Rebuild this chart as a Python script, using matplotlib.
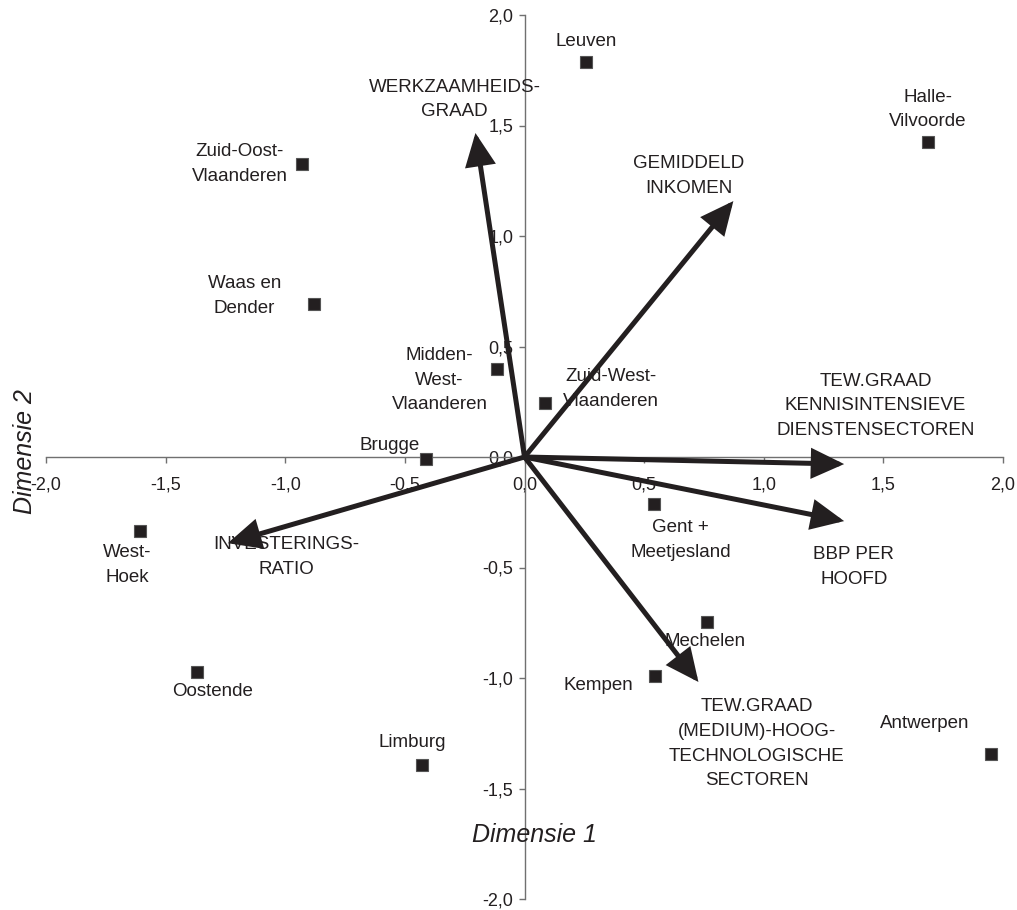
import matplotlib
matplotlib.use("Agg")
import matplotlib.pyplot as plt
from matplotlib.ticker import FuncFormatter

plt.rcParams['font.family'] = ['Liberation Sans', 'DejaVu Sans']

# ---- data ----
regions = ["Leuven", "Halle-\nVilvoorde", "Zuid-Oost-\nVlaanderen", "Waas en\nDender",
           "Midden-\nWest-\nVlaanderen", "Zuid-West-\nVlaanderen", "Brugge", "West-\nHoek",
           "Gent +\nMeetjesland", "Mechelen", "Kempen", "Oostende", "Limburg", "Antwerpen"]
region_x = [0.259, 1.687, -0.931, -0.881, -0.117, 0.084, -0.413, -1.607,
            0.543, 0.764, 0.547, -1.369, -0.430, 1.950]
region_y = [1.787, 1.425, 1.326, 0.692, 0.398, 0.244, -0.009, -0.335,
            -0.213, -0.747, -0.991, -0.973, -1.394, -1.344]

variables = ["WERKZAAMHEIDS-\nGRAAD", "GEMIDDELD\nINKOMEN",
             "TEW.GRAAD\nKENNISINTENSIEVE\nDIENSTENSECTOREN", "BBP PER\nHOOFD",
             "TEW.GRAAD\n(MEDIUM)-HOOG-\nTECHNOLOGISCHE\nSECTOREN", "INVESTERINGS-\nRATIO"]
var_x = [-0.205, 0.873, 1.336, 1.336, 0.727, -1.240]
var_y = [1.466, 1.158, -0.032, -0.290, -1.018, -0.390]

ticks = [-2.0, -1.5, -1.0, -0.5, 0.0, 0.5, 1.0, 1.5, 2.0]
xlabel = "Dimensie 1"
ylabel = "Dimensie 2"

# ---- label placement (offsets in points) ----
region_offsets = [(0, 15), (0, 23.5), (-44.6, 0), (-50, 5.8), (-41, -8), (48, 10),
                  (-26, 10), (-9, -24.5), (19, -26), (-1.5, -14), (-41, -6.5),
                  (11, -14), (-7, 16.5), (-48, 22)]
var_offsets = [(-15, 24), (-32, 18), (22.5, 42), (7, -33), (42, -44.5), (42, -10)]

ink = '#231f20'
axcol = '#707070'
fs = 13.5
ls = 1.58

fig = plt.figure(figsize=(10.17, 9.10), dpi=100)
ax = fig.add_axes([46/1017, 11/910, 957/1017, 884/910])
ax.set_xlim(-2, 2)
ax.set_ylim(-2, 2)

for s in ['top', 'right']:
    ax.spines[s].set_visible(False)
ax.spines['left'].set_position(('data', 0))
ax.spines['bottom'].set_position(('data', 0))
for s in ['left', 'bottom']:
    ax.spines[s].set_color(axcol)
    ax.spines[s].set_linewidth(1.0)

ax.set_xticks(ticks)
ax.set_yticks(ticks)
fmt = FuncFormatter(lambda v, p: f"{v:.1f}".replace('.', ','))
ax.xaxis.set_major_formatter(fmt)
ax.yaxis.set_major_formatter(fmt)
ax.tick_params(axis='x', direction='out', length=4, width=1, color=axcol,
               labelsize=13, labelcolor=ink, pad=10)
ax.tick_params(axis='y', direction='out', length=4, width=1, color=axcol,
               labelsize=13, labelcolor=ink, pad=4)

# arrows
for vx, vy in zip(var_x, var_y):
    ax.annotate('', xy=(vx, vy), xytext=(0, 0),
                arrowprops=dict(arrowstyle='-|>,head_length=0.9,head_width=0.42',
                                mutation_scale=20, lw=3.6, color=ink,
                                shrinkA=0, shrinkB=0, joinstyle='miter'),
                zorder=3)

for lab, vx, vy, off in zip(variables, var_x, var_y, var_offsets):
    ax.annotate(lab, xy=(vx, vy), xytext=off, textcoords='offset points',
                ha='center', va='center', multialignment='center',
                fontsize=fs, color=ink, linespacing=ls, zorder=4)

# region points
ax.plot(region_x, region_y, linestyle='none', marker='s', markersize=8.5,
        markerfacecolor=ink, markeredgecolor='#555555', markeredgewidth=0.8, zorder=5)

for lab, rx, ry, off in zip(regions, region_x, region_y, region_offsets):
    ax.annotate(lab, xy=(rx, ry), xytext=off, textcoords='offset points',
                ha='center', va='center', multialignment='center',
                fontsize=fs, color=ink, linespacing=ls, zorder=4)

fig.text(534/1017, 1 - 835/910, xlabel, ha='center', va='center',
         fontsize=18, style='italic', color=ink)
fig.text(25/1017, 1 - 452/910, ylabel, ha='center', va='center',
         fontsize=18, style='italic', color=ink, rotation=90)

fig.savefig('out.png', dpi=100)
